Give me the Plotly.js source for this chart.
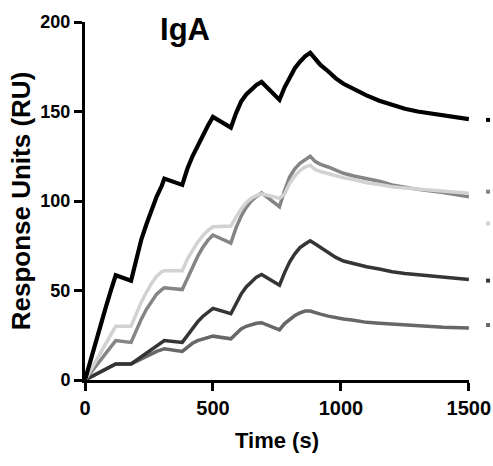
<!DOCTYPE html>
<html>
<head>
<meta charset="utf-8">
<script src="https://cdn.plot.ly/plotly-3.0.1.min.js"></script>
<style>
  html, body { margin: 0; padding: 0; background: #fff; }
  #chart { width: 493px; height: 466px; }
</style>
</head>
<body>
<div id="chart"></div>
<script>
// Time points (s)
const timeS = [0, 20, 40, 60, 80, 100, 120, 180, 200, 220, 240, 260, 280, 300, 310, 380, 400, 420, 440, 460, 480, 500, 570, 590, 610, 630, 650, 670, 690, 760, 780, 800, 820, 840, 860, 880, 900, 920, 950, 980, 1010, 1050, 1100, 1150, 1200, 1250, 1300, 1400, 1500];

// Response units per series
const seriesBlack  = [0, 10.5, 20.5, 30.5, 40, 49.5, 58.5, 55.5, 67, 78.5, 87, 95, 102.5, 108.5, 112.5, 109, 118, 125, 131, 137, 142, 147, 141, 149, 155.5, 159.5, 162.5, 164.8, 166.5, 156.5, 163.5, 169.5, 174.2, 177.8, 180.8, 182.8, 179, 176, 172.5, 168.5, 165.5, 162.5, 159, 156, 153.5, 151.5, 150, 148, 145.7];
const seriesGray   = [0, 3.7, 7.3, 11, 14.7, 18.3, 22, 21, 28, 34, 39.5, 44, 48, 50.5, 51.5, 50.5, 57, 63.5, 69, 74, 78, 81, 76.5, 85, 91.5, 96.5, 100, 102.5, 104.5, 96.8, 106, 113.5, 118, 121, 123.2, 125, 122, 120.5, 119, 117, 115.5, 114, 112.7, 111, 109, 107.7, 106.5, 104.7, 102.4];
const seriesLight  = [0, 5, 10, 15, 20, 25, 30, 30, 37, 43.5, 49, 54, 58, 60.5, 61, 61, 67.5, 72.5, 77, 80.5, 83.5, 85.6, 86, 91, 95.5, 99, 101.5, 103, 104, 101.5, 104, 110, 114, 117, 119, 120, 117.5, 116.5, 115.3, 114, 113, 112, 110.2, 109.2, 108, 107.3, 106.7, 105.5, 104.3];
const seriesDark   = [0, 1.5, 3, 4.5, 6, 7.5, 9, 9, 11, 13, 15, 17, 19, 21, 22, 21, 25, 29, 32.5, 35.5, 38, 40, 37, 43, 48, 52, 55, 57.5, 59, 53, 60, 66, 70.5, 74, 76, 77.8, 76, 74, 71, 68.5, 66.5, 65, 63.3, 62, 60.5, 59.5, 58.8, 57.5, 56.2];
const seriesMedium = [0, 1.5, 3, 4.5, 6, 7.5, 9, 9, 10.5, 12, 13.5, 15, 16, 17, 17.5, 16, 18.5, 20.5, 22, 23, 24, 24.5, 23, 26, 28.5, 30, 31, 31.7, 32, 28, 31.5, 34, 36, 37.5, 38.5, 38.5, 37.5, 36.8, 35.7, 34.8, 34.1, 33.4, 32.2, 31.7, 31.2, 30.6, 30.2, 29.5, 29];

// Small key markers at the right edge
const keyX = [1575, 1575, 1575, 1575, 1575];
const keyY = [145.3, 105.2, 87.5, 55.5, 30.7];

const xTicks = [0, 500, 1000, 1500];
const yTicks = [0, 50, 100, 150, 200];
const xMax = 1500, yMax = 200;

const cBlack = '#000000', cGray = '#858585', cLight = '#d2d2d2', cDark = '#353535', cMedium = '#676767';

function line(y, color, w) {
  return { x: timeS, y: y, type: 'scatter', mode: 'lines',
           line: { color: color, width: w }, showlegend: false, hoverinfo: 'skip' };
}

const traces = [
  line(seriesMedium, cMedium, 3.5),
  line(seriesDark, cDark, 3.5),
  line(seriesGray, cGray, 3.5),
  line(seriesLight, cLight, 3.5),
  line(seriesBlack, cBlack, 4.2),
  { x: keyX, y: keyY, xaxis: 'x2', yaxis: 'y', type: 'scatter', mode: 'markers',
    marker: { symbol: 'square', size: 4, color: [cBlack, cGray, cLight, cDark, cMedium] },
    showlegend: false, hoverinfo: 'skip' }
];

const font = "'Liberation Sans', Arial, sans-serif";
const W = 493, H = 466, L = 85, R = 2;
const plotW = W - L - R;           // full plot area width in px
const axisPx = 384;                // visible x-axis length in px
const frac = axisPx / plotW;

const layout = {
  width: W, height: H,
  margin: { l: L, r: R, t: 22, b: 86 },
  paper_bgcolor: '#fff', plot_bgcolor: 'rgba(0,0,0,0)',
  title: { text: '<b>IgA</b>', font: { family: font, size: 31, color: '#000' },
           x: 185 / W, xanchor: 'center', y: 1 - 29 / H, yanchor: 'middle' },
  xaxis: {
    domain: [0, frac], anchor: 'y',
    range: [0, xMax + 0.5], tickvals: xTicks, ticktext: xTicks.map(String),
    showline: true, linecolor: '#000', linewidth: 3, mirror: false,
    ticks: 'outside', ticklen: 8, tickwidth: 3, tickcolor: '#000',
    showgrid: false, zeroline: false,
    tickfont: { family: font, size: 20, color: '#000', weight: 'bold' },
    title: { text: '<b>Time (s)</b>', font: { family: font, size: 22, color: '#000' }, standoff: 15 }
  },
  xaxis2: {
    domain: [0, 1], anchor: 'y', visible: false,
    range: [0, (xMax + 0.5) / frac], showgrid: false, zeroline: false
  },
  yaxis: {
    range: [0, yMax], tickvals: yTicks, ticktext: yTicks.map(String),
    showline: true, linecolor: '#000', linewidth: 3, mirror: false,
    ticks: 'outside', ticklen: 8, tickwidth: 3, tickcolor: '#000',
    showgrid: false, zeroline: false,
    tickfont: { family: font, size: 18, color: '#000', weight: 'bold' },
    title: { text: '<b>Response Units (RU)</b>', font: { family: font, size: 26, color: '#000' }, standoff: 3 }
  }
};

Plotly.newPlot('chart', traces, layout, { displayModeBar: false, staticPlot: true });
</script>
</body>
</html>
